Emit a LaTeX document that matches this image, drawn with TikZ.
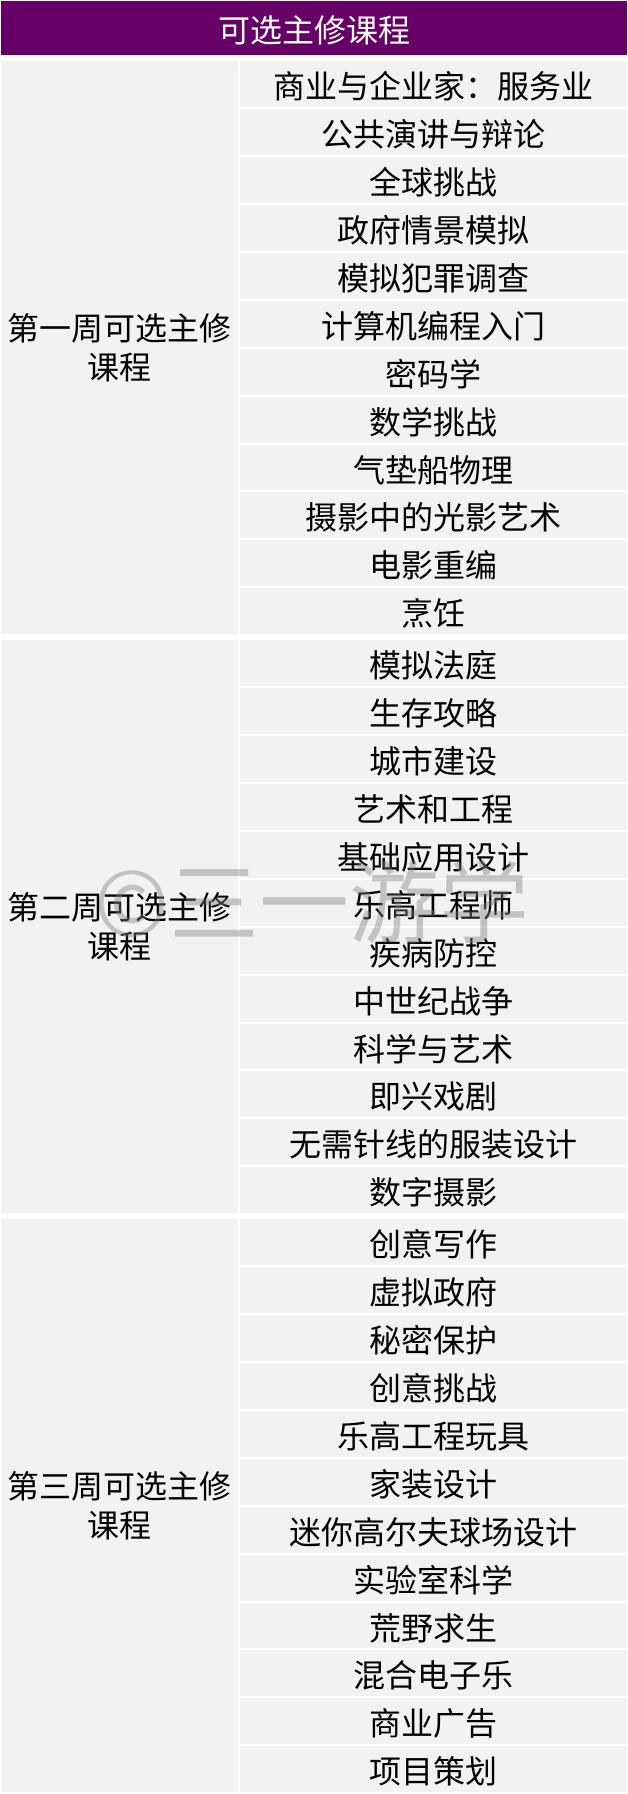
\documentclass[tikz,border=0pt]{standalone}
\usepackage{fontspec}
\setmainfont{Noto Sans CJK SC}
\definecolor{hdrpurple}{HTML}{660066}
\definecolor{cellgray}{HTML}{F2F2F2}
\tikzset{
  cellbase/.style={fill=cellgray, inner sep=0pt, anchor=north west, text=black,
    font=\fontsize{32}{39}\selectfont, align=center},
  coursecell/.style={cellbase, minimum width=387pt, minimum height=45.92pt,
    text height=29pt, text depth=0pt},
  weekcell/.style={cellbase, minimum width=237pt, minimum height=573pt},
  headcell/.style={fill=hdrpurple, inner sep=0pt, anchor=north west, text=white,
    minimum width=626pt, minimum height=54pt, font=\fontsize{32}{39}\selectfont,
    text height=29pt, text depth=0pt},
  watermark/.style={text=gray, opacity=0.42, inner sep=0pt,
    font=\fontsize{90}{90}\selectfont}
}
\newcommand\coursesec[3]{%
  \pgfmathsetmacro\sectop{61+(#1-1)*579}
  \node[weekcell] (w#1) at (1,\sectop) {#2};
  \foreach \t [count=\i] in {#3} {
    \pgfmathsetmacro\rowtop{\sectop+(\i-1)*47.9167}
    \node[coursecell] (s#1r\i) at (240,\rowtop) {\t};
  }
}
\begin{document}
\begin{tikzpicture}[x=1pt,y=-1pt]
\useasboundingbox (0,0) rectangle (628,1794);
\fill[white] (0,0) rectangle (628,1794);
\node[headcell] (hdr) at (1,1) {可选主修课程};
\coursesec{1}{第一周可选主修\\课程}{商业与企业家：服务业,公共演讲与辩论,全球挑战,政府情景模拟,模拟犯罪调查,计算机编程入门,密码学,数学挑战,气垫船物理,摄影中的光影艺术,电影重编,烹饪}
\coursesec{2}{第二周可选主修\\课程}{模拟法庭,生存攻略,城市建设,艺术和工程,基础应用设计,乐高工程师,疾病防控,中世纪战争,科学与艺术,即兴戏剧,无需针线的服装设计,数字摄影}
\coursesec{3}{第三周可选主修\\课程}{创意写作,虚拟政府,秘密保护,创意挑战,乐高工程玩具,家装设计,迷你高尔夫球场设计,实验室科学,荒野求生,混合电子乐,商业广告,项目策划}
\node[watermark] (wm) at (312,902) {©三一游学};
\end{tikzpicture}
\end{document}
